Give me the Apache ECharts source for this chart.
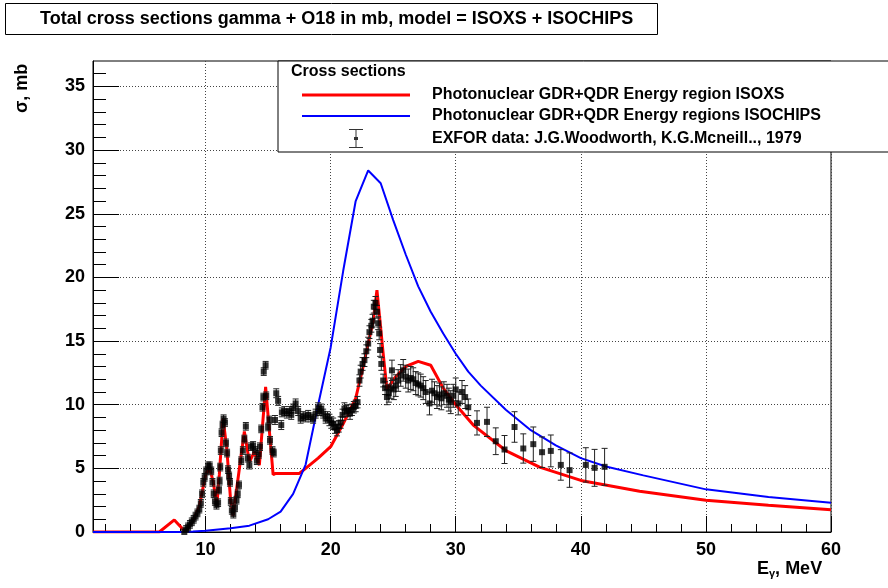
<!DOCTYPE html>
<html>
<head>
<meta charset="utf-8">
<script src="https://cdn.jsdelivr.net/npm/echarts@6/dist/echarts.min.js"></script>
<style>
    html, body { margin: 0; padding: 0; background: #fff; }
    #chart { width: 888px; height: 588px; }
</style>
</head>
<body>
<div id="chart"></div>
<script>
// tick positions
var xTicks = [10, 20, 30, 40, 50, 60];
var xMinorTicks = [2, 4, 6, 8, 12, 14, 16, 18, 22, 24, 26, 28, 32, 34, 36, 38, 42, 44, 46, 48, 52, 54, 56, 58];
var yTicks = [0, 5, 10, 15, 20, 25, 30, 35];
var yMinorTicks = [1, 2, 3, 4, 6, 7, 8, 9, 11, 12, 13, 14, 16, 17, 18, 19, 21, 22, 23, 24, 26, 27, 28, 29, 31, 32, 33, 34, 36];

// ISOXS (red)
var isoxsE = [1, 6.3, 7.5, 8.4, 9.0, 9.5, 10.0, 10.3, 10.6, 10.9, 11.1, 11.4, 11.7, 12.0, 12.2, 12.5, 13.1, 13.5, 13.9, 14.3, 14.8, 15.4, 15.6, 17.5, 18, 19, 20, 21, 22, 22.6, 23.4, 23.7, 24.2, 24.5, 25.2, 26, 27, 28, 29, 30, 31.4, 34, 36.7, 40, 44.7, 50, 55, 60];
var isoxsSigma = [0, 0, 0.95, 0, 0.9, 2.0, 4.5, 5.1, 4.0, 2.1, 4.5, 8.9, 6.5, 2.5, 1.3, 3.5, 7.9, 5.5, 6.3, 5.25, 11.4, 4.5, 4.6, 4.6, 5.0, 5.8, 6.7, 8.5, 10.5, 13.0, 16.6, 19.0, 14.0, 11.2, 12.2, 13.0, 13.4, 13.1, 11.3, 10.0, 8.4, 6.4, 5.1, 4.05, 3.2, 2.5, 2.1, 1.75];

// ISOCHIPS (blue)
var isochipsE = [1, 8, 9, 10, 12, 13.5, 15, 16, 17, 18, 19, 20, 21, 22, 23, 24, 25, 26, 27, 28, 29, 30, 31, 32, 34, 36, 38, 40, 42, 45, 50, 55, 60];
var isochipsSigma = [0, 0, 0.03, 0.1, 0.3, 0.5, 1.0, 1.6, 3.0, 5.3, 10.0, 14.5, 20.5, 26.0, 28.4, 27.4, 24.5, 21.8, 19.3, 17.3, 15.6, 14.0, 12.6, 11.5, 9.6, 8.0, 6.8, 5.8, 5.15, 4.45, 3.35, 2.75, 2.3];

// EXFOR data: energy, cross section, error
var exforE = [8.3, 8.45, 8.6, 8.75, 8.9, 9.05, 9.2, 9.35, 9.5, 9.62, 9.72, 9.82, 9.93, 10.05, 10.2, 10.33, 10.45, 10.55, 10.65, 10.75, 10.87, 11.0, 11.07, 11.12, 11.17, 11.22, 11.28, 11.36, 11.44, 11.55, 11.63, 11.72, 11.8, 11.88, 11.95, 12.02, 12.1, 12.22, 12.35, 12.47, 12.57, 12.67, 12.85, 12.98, 13.1, 13.22, 13.38, 13.5, 13.63, 13.8, 13.95, 14.1, 14.25, 14.35, 14.45, 14.55, 14.62, 14.65, 14.8, 14.85, 15.0, 15.1, 15.15, 15.35, 15.45,
    15.55, 15.65, 15.8, 16.05, 16.1, 16.3, 16.5, 16.7, 16.85, 17.0, 17.2, 17.4, 17.6, 17.8, 18.0, 18.2, 18.4, 18.6, 18.8, 19.0, 19.1, 19.25, 19.4, 19.6, 19.75,
    19.9, 20.05, 20.2, 20.35, 20.5, 20.65, 20.8, 20.95, 21.1, 21.25, 21.4, 21.55, 21.7, 21.85, 22.0, 22.15, 22.3,
    22.4, 22.55, 22.7, 22.85, 23.0, 23.1, 23.25, 23.35, 23.45, 23.58, 23.7, 23.8, 23.88, 23.95, 24.05, 24.2, 24.35, 24.5, 24.65,
    24.8, 24.9, 25.05, 25.2, 25.4, 25.6, 25.8, 26.0, 26.2, 26.4, 26.6, 26.8, 27.0, 27.2, 27.4, 27.6, 27.9, 28.1, 28.3, 28.5, 28.7, 28.85, 29.05, 29.3, 29.45, 29.6, 29.8, 30.0, 30.2, 30.5, 30.75, 31.0,
    31.7, 32.5, 33.2, 33.9, 34.7, 35.4, 36.2, 36.9, 37.6, 38.4, 39.1, 40.4, 41.1, 41.9];
var exforSigma = [0.0, 0.2, 0.4, 0.6, 0.8, 1.0, 1.25, 1.5, 1.8, 2.25, 3.0, 3.9, 4.3, 4.8, 5.2, 5.2, 4.8, 3.9, 3.0, 2.4, 2.1, 2.3, 3.3, 4.0, 5.1, 6.4, 7.8, 8.4, 8.9, 8.6, 7.0, 6.2, 4.9, 4.4, 3.9, 2.4, 1.7, 1.4, 1.9, 2.5, 3.0, 3.7, 5.6, 6.4, 7.3, 8.3, 5.8, 5.25, 6.7, 6.8, 6.4, 5.6, 6.1, 6.7, 8.1, 9.8, 10.6, 12.6, 13.1, 10.7, 8.25, 8.8, 7.2, 6.4, 6.2,
    8.8, 10.9, 10.3, 8.4, 9.4, 9.5, 9.3, 9.5, 9.2, 9.7, 10.1, 9.5, 8.9, 9.1, 9.0, 9.2, 9.0, 8.9, 9.3, 9.8, 9.5, 9.7, 9.3, 8.9, 9.1,
    8.8, 8.6, 8.5, 8.2, 8.0, 8.3, 8.6, 9.2, 9.7, 9.5, 9.55, 9.3, 9.6, 9.8, 9.9, 10.2, 11.9,
    12.6, 13.2, 13.5, 14.2, 14.8, 15.7, 16.2, 16.6, 17.7, 18.0, 17.3, 16.4, 15.6, 14.3, 13.2, 11.9, 11.3, 10.6, 10.9,
    11.3, 12.7, 11.2, 11.5, 11.9, 12.3, 12.7, 12.2, 11.9, 12.1, 12.0, 11.7, 11.6, 11.5, 11.3, 11.0, 10.1, 11.1, 10.9, 10.6, 10.8, 10.5, 10.9, 10.7, 10.4, 10.2, 10.7, 11.2, 10.1, 11.0, 10.6, 9.8,
    8.57, 8.65, 7.13, 6.48, 8.25, 6.56, 6.9, 6.27, 6.37, 5.27, 4.86, 5.27, 5.04, 5.12];
var exforErr = [0.3, 0.3, 0.3, 0.3, 0.3, 0.3, 0.3, 0.3, 0.3, 0.3, 0.3, 0.3, 0.3, 0.3, 0.3, 0.3, 0.3, 0.3, 0.3, 0.3, 0.3, 0.3, 0.3, 0.3, 0.3, 0.3, 0.3, 0.3, 0.3, 0.3, 0.3, 0.3, 0.3, 0.3, 0.3, 0.3, 0.3, 0.3, 0.3, 0.3, 0.3, 0.3, 0.3, 0.3, 0.3, 0.3, 0.3, 0.3, 0.3, 0.3, 0.3, 0.3, 0.3, 0.3, 0.3, 0.3, 0.3, 0.3, 0.3, 0.3, 0.3, 0.3, 0.3, 0.3, 0.3,
    0.35, 0.35, 0.35, 0.35, 0.35, 0.35, 0.35, 0.35, 0.35, 0.35, 0.35, 0.35, 0.35, 0.35, 0.35, 0.35, 0.35, 0.35, 0.35, 0.35, 0.35, 0.35, 0.35, 0.35, 0.35,
    0.45, 0.45, 0.45, 0.45, 0.45, 0.45, 0.45, 0.45, 0.45, 0.45, 0.45, 0.45, 0.45, 0.45, 0.45, 0.45, 0.45,
    0.5, 0.5, 0.5, 0.5, 0.5, 0.5, 0.5, 0.5, 0.5, 0.5, 0.5, 0.5, 0.5, 0.5, 0.5, 0.5, 0.5, 0.6, 0.7,
    0.8, 0.8, 0.8, 0.85, 0.85, 0.85, 0.85, 0.9, 0.9, 0.9, 0.9, 0.9, 0.9, 0.9, 0.9, 0.9, 0.9, 0.9, 0.9, 0.9, 0.9, 0.9, 0.9, 0.9, 0.9, 0.9, 0.9, 0.9, 0.9, 0.9, 0.9, 0.65,
    0.95, 1.15, 1.05, 1.1, 1.2, 1.15, 1.35, 1.2, 1.25, 1.2, 1.35, 1.35, 1.45, 1.45];

function pairs(xs, ys) {
    return xs.map(function (x, i) { return [x, ys[i]]; });
}
var exforData = exforE.map(function (x, i) { return [x, exforSigma[i], exforErr[i]]; });

var font = 'Liberation Sans, Arial, Helvetica, sans-serif';
var nameIsoxs = 'Photonuclear GDR+QDR Energy region ISOXS';
var nameIsochips = 'Photonuclear GDR+QDR Energy regions ISOCHIPS';
var nameExfor = 'EXFOR data: J.G.Woodworth, K.G.Mcneill.., 1979';
var redIcon = 'path://M0,0 L108,0 L108,3 L0,3 Z';
var blueIcon = 'path://M0,0 L108,0 L108,2 L0,2 Z';
var errIcon = 'path://M0,0 L14,0 L14,1 L7.5,1 L7.5,8 L9,8 L9,11 L7.5,11 L7.5,18 L14,18 L14,19 L0,19 L0,18 L6.5,18 L6.5,11 L5,11 L5,8 L6.5,8 L6.5,1 L0,1 Z';

var chart = echarts.init(document.getElementById('chart'), null, { renderer: 'canvas' });

var gridPos = { left: 93, right: 57, top: 61, bottom: 56 };

var option = {
    animation: false,
    backgroundColor: '#fff',
    textStyle: { fontFamily: font },
    title: [
        {
            text: 'Total cross sections gamma + O18 in mb, model = ISOXS + ISOCHIPS',
            left: 5,
            top: 3,
            borderColor: '#000',
            borderWidth: 1,
            padding: [7, 24, 7, 35],
            textStyle: { fontFamily: font, fontWeight: 'bold', fontSize: 18, color: '#000' }
        },
        {
            text: 'Cross sections',
            left: 291,
            top: 64,
            padding: 0,
            textStyle: { fontFamily: font, fontWeight: 'bold', fontSize: 16, color: '#000' }
        }
    ],
    legend: {
        left: 278,
        top: 61,
        orient: 'vertical',
        padding: [26, 120, 4, 24],
        itemWidth: 108,
        itemHeight: 19,
        itemGap: 5,
        backgroundColor: '#fff',
        borderColor: '#000',
        borderWidth: 1,
        borderRadius: 0,
        textStyle: { fontFamily: font, fontWeight: 'bold', fontSize: 16, color: '#000', padding: [0, 0, 0, 17] },
        data: [
            { name: nameIsoxs, icon: redIcon, itemStyle: { color: '#ff0000' } },
            { name: nameIsochips, icon: blueIcon, itemStyle: { color: '#0000ff' } },
            { name: nameExfor, icon: errIcon, itemStyle: { color: '#000' } }
        ]
    },
    grid: [
        Object.assign({ show: true, borderColor: '#000', borderWidth: 1, backgroundColor: '#fff' }, gridPos),
        Object.assign({}, gridPos)
    ],
    xAxis: [
        {
            type: 'value', gridIndex: 0, min: 1, max: 60,
            axisLine: { show: true, onZero: false, lineStyle: { color: '#000', width: 1 } },
            axisTick: { show: true, inside: true, length: 16, customValues: xTicks, lineStyle: { color: '#000' } },
            axisLabel: { show: true, customValues: xTicks, margin: 9, fontFamily: font, fontWeight: 'bold', fontSize: 18, color: '#000' },
            splitLine: { show: true, lineStyle: { color: '#444', type: [1, 2], width: 1 } }
        },
        {
            type: 'value', gridIndex: 1, min: 1, max: 60,
            axisLine: { show: false, onZero: false },
            axisTick: { show: true, inside: true, length: 8, customValues: xMinorTicks, lineStyle: { color: '#000' } },
            axisLabel: { show: false },
            splitLine: { show: false }
        }
    ],
    yAxis: [
        {
            type: 'value', gridIndex: 0, min: 0, max: 37,
            axisLine: { show: true, onZero: false, lineStyle: { color: '#000', width: 1 } },
            axisTick: { show: true, inside: true, length: 26, customValues: yTicks, lineStyle: { color: '#000' } },
            axisLabel: { show: true, customValues: yTicks, margin: 8, fontFamily: font, fontWeight: 'bold', fontSize: 18, color: '#000' },
            splitLine: { show: true, lineStyle: { color: '#444', type: [1, 2], width: 1 } }
        },
        {
            type: 'value', gridIndex: 1, min: 0, max: 37,
            axisLine: { show: false, onZero: false },
            axisTick: { show: true, inside: true, length: 13, customValues: yMinorTicks, lineStyle: { color: '#000' } },
            axisLabel: { show: false },
            splitLine: { show: false }
        }
    ],
    graphic: [
        {
            type: 'text',
            left: 757,
            top: 560,
            style: {
                text: '{e|E}{s|γ}{e|, MeV}',
                rich: {
                    e: { fontFamily: font, fontWeight: 'bold', fontSize: 18, fill: '#000' },
                    s: { fontFamily: font, fontWeight: 'bold', fontSize: 11, fill: '#000', padding: [10, 0, 0, 0] }
                }
            }
        },
        {
            type: 'text',
            x: 13,
            y: 113,
            rotation: Math.PI / 2,
            style: {
                text: 'σ, mb',
                fontFamily: font, fontWeight: 'bold', fontSize: 18, fill: '#000',
                align: 'left', verticalAlign: 'top'
            }
        }
    ],
    series: [
        {
            name: nameIsoxs,
            type: 'line',
            xAxisIndex: 0, yAxisIndex: 0,
            data: pairs(isoxsE, isoxsSigma),
            symbol: 'none',
            lineStyle: { color: '#ff0000', width: 3 },
            itemStyle: { color: '#ff0000' },
            z: 3
        },
        {
            name: nameIsochips,
            type: 'line',
            xAxisIndex: 0, yAxisIndex: 0,
            data: pairs(isochipsE, isochipsSigma),
            symbol: 'none',
            lineStyle: { color: '#0000ff', width: 2 },
            itemStyle: { color: '#0000ff' },
            z: 4
        },
        {
            name: nameExfor + ' bars',
            type: 'custom',
            xAxisIndex: 0, yAxisIndex: 0,
            data: exforData,
            z: 5,
            renderItem: function (params, api) {
                var x = api.value(0), y = api.value(1), e = api.value(2);
                var lo = Math.max(0, y - e);
                var top = api.coord([x, y + e]);
                var bot = api.coord([x, lo]);
                var hw = 3;
                var st = { stroke: '#222', lineWidth: 1 };
                return {
                    type: 'group',
                    children: [
                        { type: 'line', shape: { x1: top[0], y1: top[1], x2: bot[0], y2: bot[1] }, style: st },
                        { type: 'line', shape: { x1: top[0] - hw, y1: top[1], x2: top[0] + hw, y2: top[1] }, style: st },
                        { type: 'line', shape: { x1: bot[0] - hw, y1: bot[1], x2: bot[0] + hw, y2: bot[1] }, style: st }
                    ]
                };
            }
        },
        {
            name: nameExfor,
            type: 'scatter',
            xAxisIndex: 0, yAxisIndex: 0,
            data: exforData.map(function (d) { return [d[0], d[1]]; }),
            symbol: 'rect',
            symbolSize: 6,
            itemStyle: { color: '#000' },
            z: 6
        }
    ]
};

chart.setOption(option);
</script>
</body>
</html>
